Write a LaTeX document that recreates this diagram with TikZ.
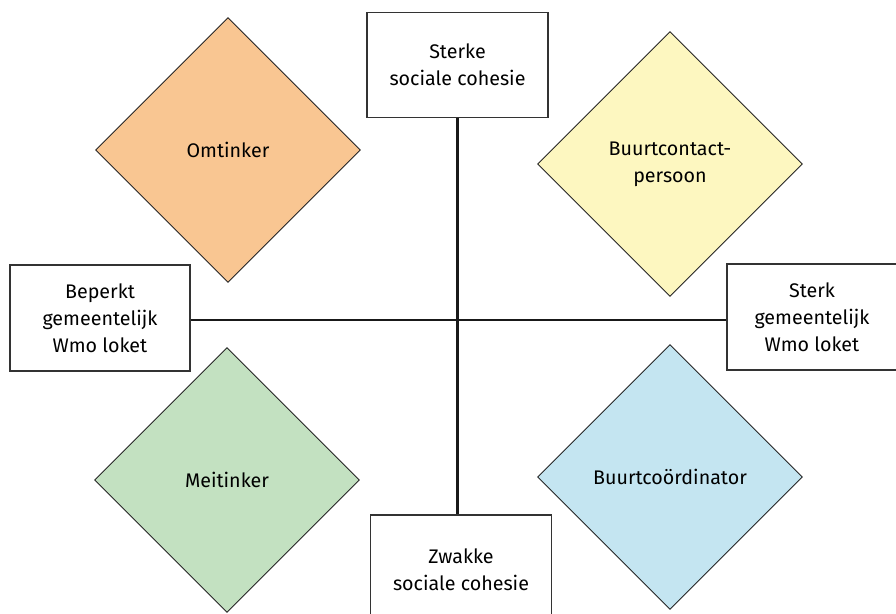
\documentclass[tikz,border=0pt]{standalone}
\usepackage{fontspec}
\setmainfont{Fira Sans}
\usepackage{xcolor}
\usepackage{tikz}
\usetikzlibrary{shapes.geometric, positioning, calc}
\definecolor{omcol}{HTML}{F9C692}
\definecolor{bccol}{HTML}{FDF7C0}
\definecolor{meicol}{HTML}{C3E1C1}
\definecolor{bcocol}{HTML}{C4E5F1}
\tikzset{
  pole/.style={draw=black!80, line width=0.7pt, align=center, fill=white,
    minimum width=3.62cm, minimum height=2.1cm, font=\fontsize{11.2}{15.3}\selectfont},
  rol/.style={diamond, draw=black!85, line width=0.5pt, aspect=1, inner sep=0pt,
    minimum width=5.3cm, minimum height=5.3cm, align=center,
    font=\fontsize{11.2}{15.3}\selectfont},
  axis/.style={line width=1.3pt, black!90}
}

\begin{document}
\begin{tikzpicture}[x=0.02cm, y=-0.02cm]
    \useasboundingbox (0,0) rectangle (896,614);
    % rollen
    \node[rol, fill=omcol] (omt) at (228,150) {Omtinker};
    \node[rol, fill=bccol] (bcp) at (670,164) {Buurtcontact-\\persoon};
    \node[rol, fill=meicol] (mei) at (227,480) {Meitinker};
    \node[rol, fill=bcocol] (bco) at (670,477) {Buurtco\"ordinator};
    % assen
    \node[pole] (sterk) at (457.5,65) {Sterke\\sociale cohesie};
    \node[pole, minimum height=2.2cm] (zwak) at (461,570) {Zwakke\\sociale cohesie};
    \node[pole, minimum width=3.6cm, minimum height=2.12cm] (beperkt) at (100,318) {Beperkt\\gemeentelijk\\Wmo loket};
    \node[pole, minimum width=3.4cm, minimum height=2.12cm] (sterkw) at (812,317) {Sterk\\gemeentelijk\\Wmo loket};
    \draw[axis] (sterk.south) -- (sterk.south |- zwak.north);
    \draw[axis] ($(beperkt.east)+(0,2)$) -- ($(beperkt.east -| sterkw.west)+(0,2)$);
  \end{tikzpicture}
\end{document}
